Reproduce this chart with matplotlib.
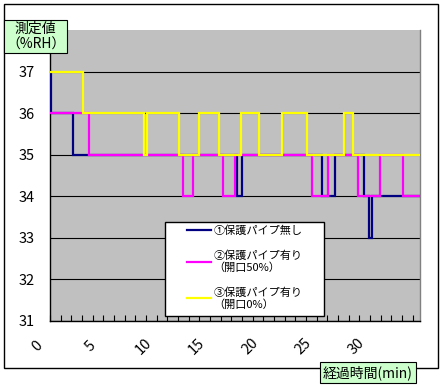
import matplotlib
matplotlib.use("Agg")
import matplotlib.pyplot as plt
from matplotlib.patches import Rectangle
from matplotlib.transforms import ScaledTranslation

plt.rcParams['font.family'] = ['Noto Sans CJK JP', 'DejaVu Sans']

# ---- data (step change points: time [min], value [%RH]) ----
navy_t = [0, 0.05, 2.2, 17.5, 17.97, 25.55, 26.7, 29.43, 29.93, 30.24, 34.7]
navy_v = [37, 36, 35, 34, 35, 34, 35, 34, 33, 34, 34]

mag_t = [0, 3.65, 12.49, 13.43, 16.25, 17.34, 24.53, 26.08, 28.9, 30.93, 33.06, 34.7]
mag_v = [36, 35, 34, 35, 34, 35, 34, 35, 34, 35, 34, 34]

yel_t = [0, 3.1, 8.86, 9.12, 12.09, 13.96, 15.84, 17.9, 19.59, 21.74, 24.06, 27.55, 28.37, 34.7]
yel_v = [37, 36, 35, 36, 35, 36, 35, 36, 35, 36, 35, 36, 35, 35]

series_labels = ['①保護パイプ無し', '②保護パイプ有り\n（開口50%）', '③保護パイプ有り\n（開口0%）']
series_colors = ['#000080', '#FF00FF', '#FFFF00']

y_ticks = [31, 32, 33, 34, 35, 36, 37]
x_label_ticks = [0, 5, 10, 15, 20, 25, 30]
ylabel_text = '測定値\n（%RH）'
xlabel_text = '経過時間(min)'

W, H = 442, 392
fig = plt.figure(figsize=(W / 100, H / 100), dpi=100)
fig.patch.set_facecolor('white')

# chart area border
fig.patches.append(Rectangle((4 / W, 1 - 368 / H), 434 / W, 364 / H,
                             transform=fig.transFigure, fill=False,
                             edgecolor='black', lw=1.0, zorder=0))

ax = fig.add_axes([50 / W, 1 - 321 / H, 370 / W, 291 / H])
ax.set_facecolor('#C0C0C0')

handles = []
for t, v, c, lab in zip([navy_t, mag_t, yel_t], [navy_v, mag_v, yel_v],
                        series_colors, series_labels):
    h, = ax.plot(t, v, drawstyle='steps-post', color=c, lw=1.6,
                 label=lab, solid_joinstyle='miter', zorder=3)
    handles.append(h)

ax.set_xlim(0, 34.7)
ax.set_ylim(31, 38)

# gridlines
ax.set_yticks(y_ticks)
ax.yaxis.grid(True, color='black', lw=0.8)
ax.set_axisbelow(True)
ax.tick_params(axis='y', length=0, pad=11, labelsize=10.5)

# x ticks every minute, labels every 5
ax.set_xticks(list(range(0, 35)))
ax.set_xticklabels([str(i) if i in x_label_ticks else '' for i in range(0, 35)])
ax.tick_params(axis='x', direction='in', length=4, width=0.8, pad=0,
               labelsize=10.5)
off = ScaledTranslation(-13 / 100, -25 / 100, fig.dpi_scale_trans)
for lab in ax.get_xticklabels():
    lab.set_rotation(45)
    lab.set_rotation_mode('anchor')
    lab.set_ha('center')
    lab.set_va('center')
    lab.set_transform(lab.get_transform() + off)

for s in ['left', 'bottom']:
    ax.spines[s].set_color('black')
    ax.spines[s].set_linewidth(1.0)
ax.spines['top'].set_visible(False)
ax.spines['right'].set_color('#808080')
ax.spines['right'].set_linewidth(1.0)

# legend frame + legend
x0, x1 = (165 - 50) / 370, (324 - 50) / 370
y0, y1 = (321 - 316) / 291, (321 - 222) / 291
ax.add_patch(Rectangle((x0, y0), x1 - x0, y1 - y0, transform=ax.transAxes,
                       facecolor='white', edgecolor='black', lw=1.0, zorder=4))
leg = ax.legend(handles=handles, loc='center', bbox_to_anchor=((x0 + x1) / 2, (y0 + y1) / 2 + 0.005),
                frameon=False, fontsize=8, handlelength=2.2, handletextpad=0.2,
                labelspacing=1.25, borderpad=0.2)
leg.set_zorder(5)

# axis titles in green boxes
fig.text(35.5 / W, 1 - 36.5 / H, ylabel_text, ha='center', va='center',
         fontsize=10, linespacing=1.15,
         bbox=dict(boxstyle='square,pad=0.15', facecolor='#CCFFCC',
                   edgecolor='black', lw=0.8), zorder=6)
fig.text(368 / W, 1 - 372.5 / H, xlabel_text, ha='center', va='center',
         fontsize=10,
         bbox=dict(boxstyle='square,pad=0.25', facecolor='#CCFFCC',
                   edgecolor='black', lw=0.8), zorder=6)

fig.savefig('out.png', dpi=100)
